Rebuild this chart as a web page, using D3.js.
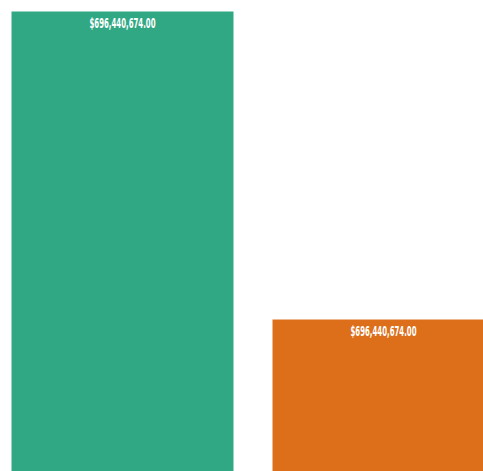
<!DOCTYPE html>
<html>
<head>
<meta charset="utf-8">
<script src="https://cdn.jsdelivr.net/npm/d3@7"></script>
<style>
  html, body { margin: 0; padding: 0; background: #fff; overflow: hidden; }
  svg { display: block; }
  .bar-label { font-family: "DejaVu Sans Condensed", "DejaVu Sans", sans-serif; font-weight: bold; font-size: 14px; fill: #fff; }
</style>
</head>
<body>
<script>
// Categories, values and their printed labels
const categories = ["A", "B"];
const values = [696440674, 229620000];
const valueLabels = ["$696,440,674.00", "$696,440,674.00"];
const colors = ["#1b9e77", "#d95f02"];

const width = 510, height = 471;

const svg = d3.select("body").append("svg")
  .attr("width", width)
  .attr("height", height);

const x = d3.scaleBand()
  .domain(categories)
  .range([11.5, 494.5])
  .paddingInner(39 / 261)
  .paddingOuter(0);

const y = d3.scaleLinear()
  .domain([0, d3.max(values)])
  .range([height, 11.5]);

const data = categories.map((c, i) => ({ c, v: values[i], label: valueLabels[i], color: colors[i] }));

svg.selectAll("rect.bar")
  .data(data)
  .join("rect")
  .attr("class", "bar")
  .attr("x", d => x(d.c))
  .attr("y", d => y(d.v))
  .attr("width", x.bandwidth())
  .attr("height", d => y(0) - y(d.v))
  .attr("fill", d => d.color)
  .attr("fill-opacity", 0.9);

// Value labels, squeezed into a narrow condensed look
const labelWidth = 66;
svg.selectAll("text.bar-label")
  .data(data)
  .join("text")
  .attr("class", "bar-label")
  .attr("text-anchor", "middle")
  .text(d => d.label)
  .attr("transform", function (d) {
    const k = labelWidth / this.getComputedTextLength();
    return `translate(${x(d.c) + x.bandwidth() / 2},${y(d.v) + 16.5}) scale(${k},1)`;
  });
</script>
</body>
</html>
